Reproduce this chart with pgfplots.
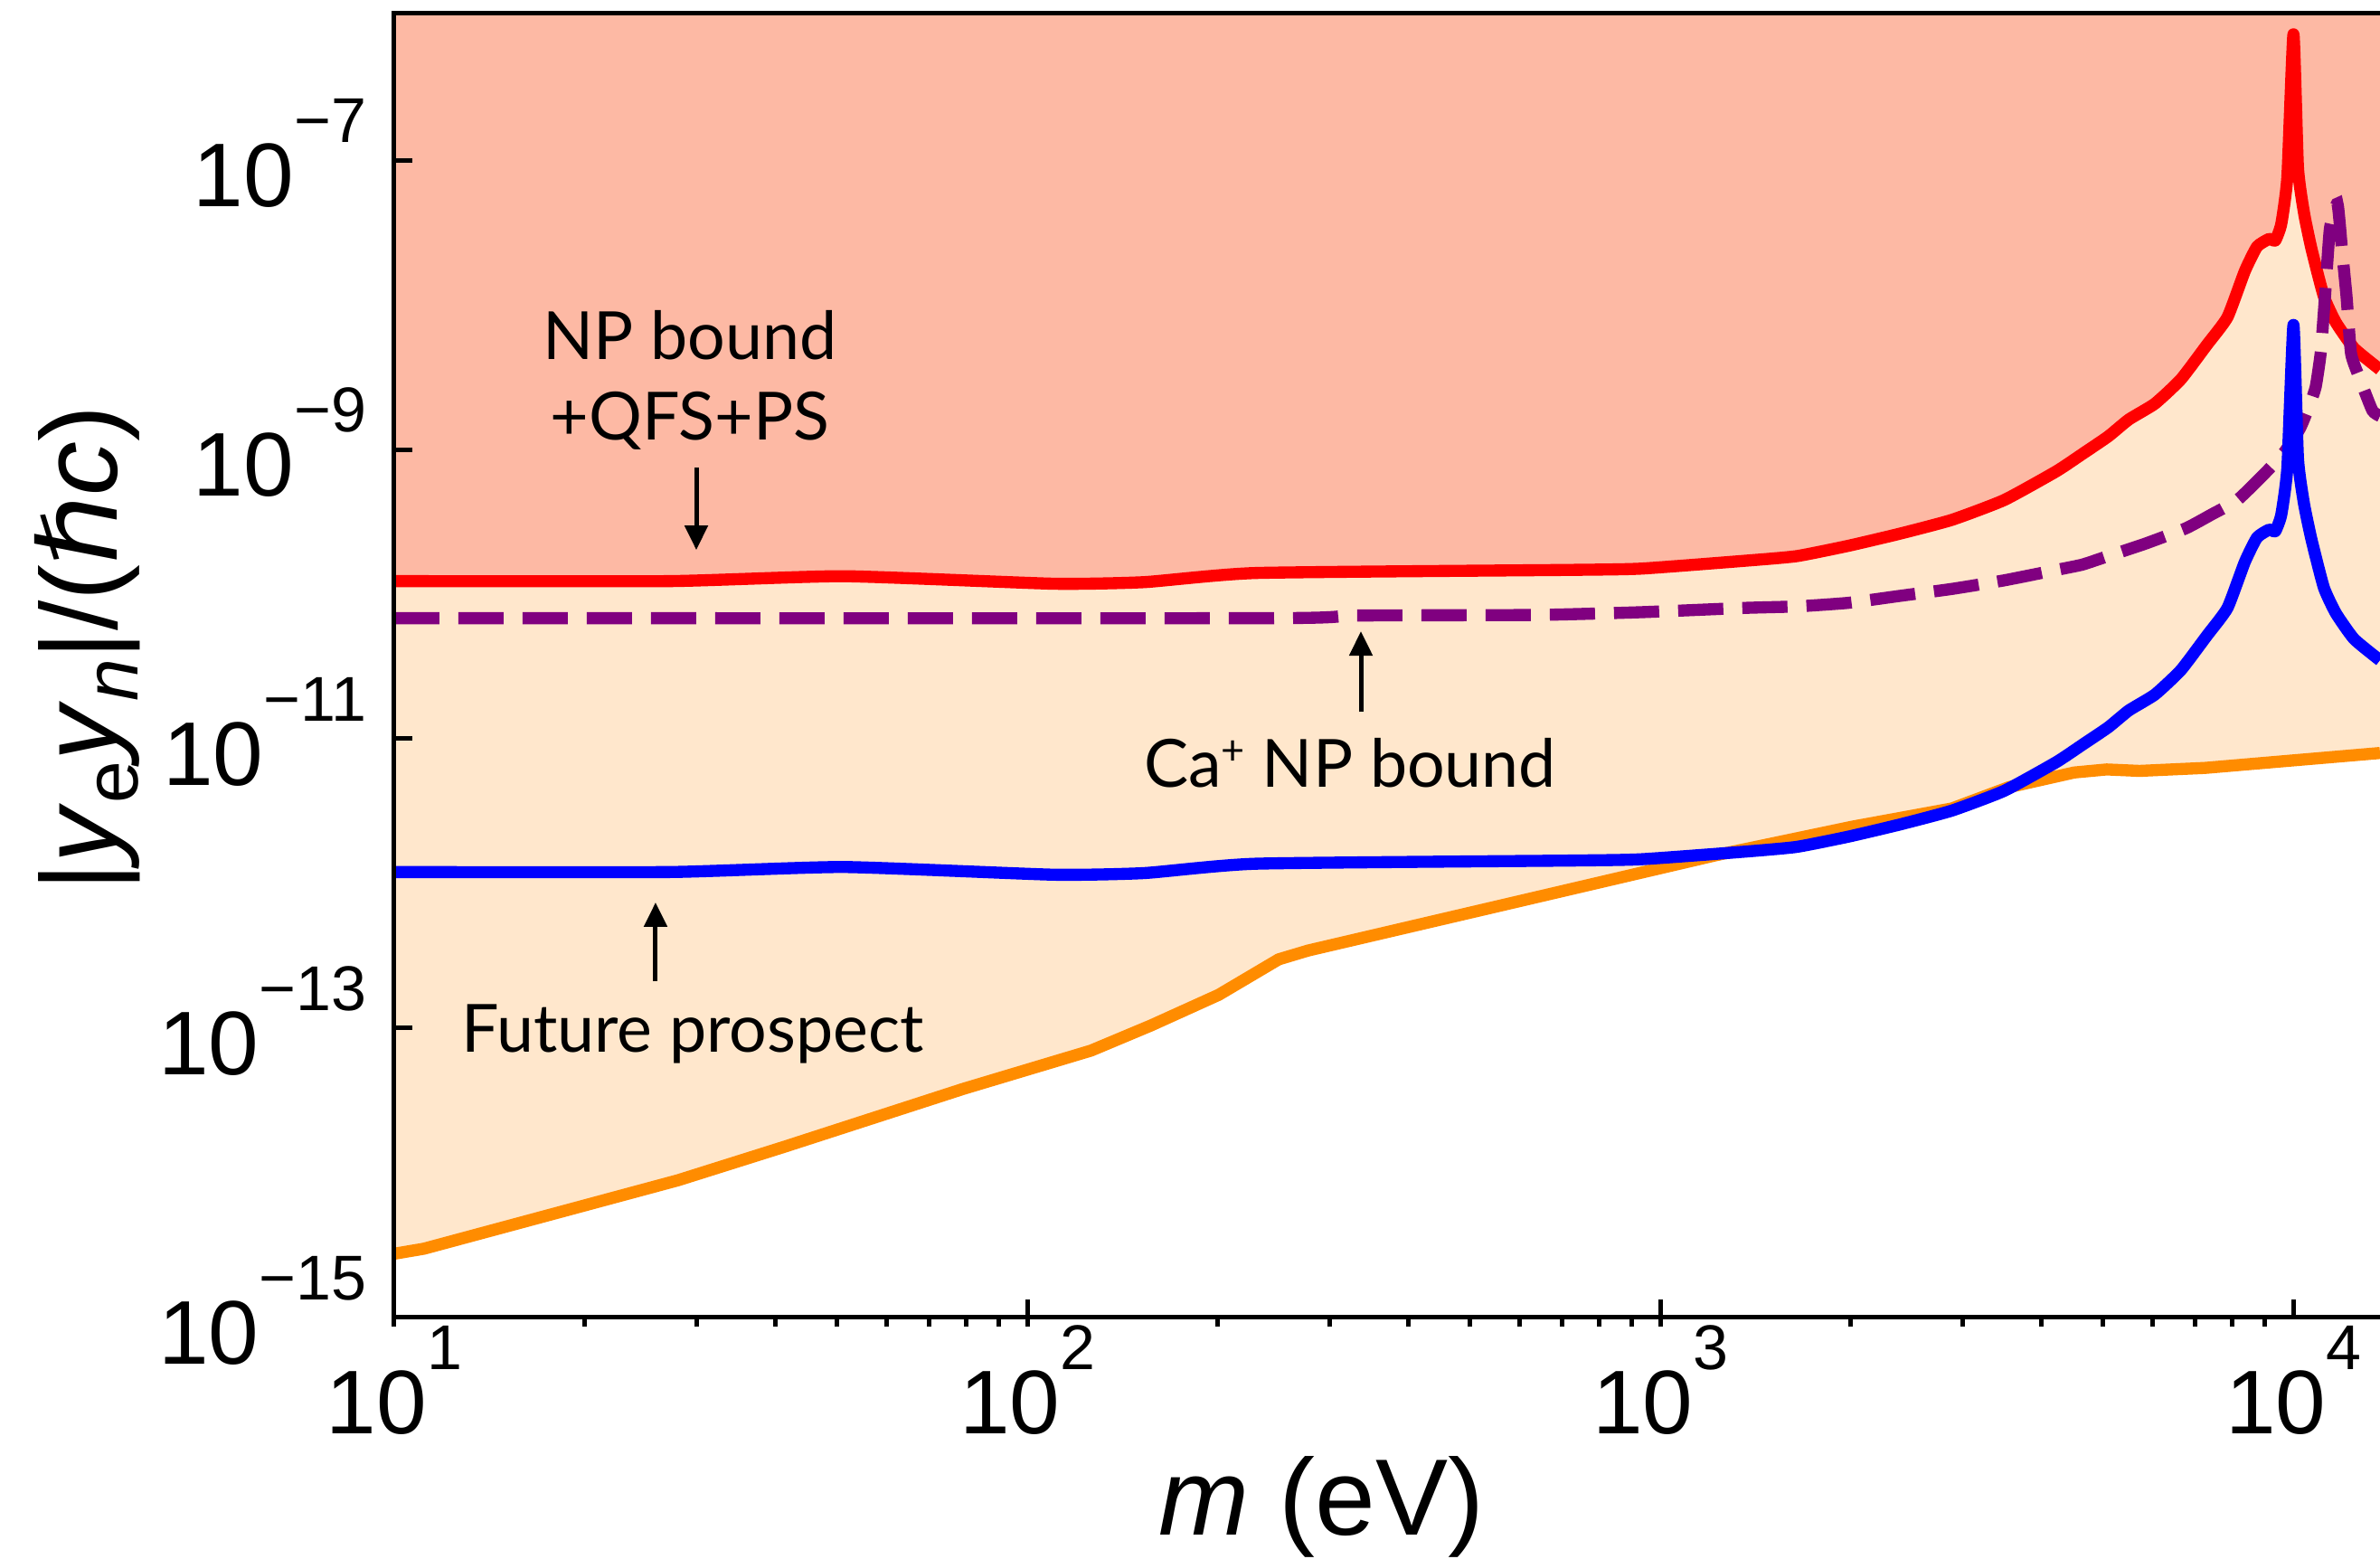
\documentclass[border=0pt]{standalone}
\usepackage{fontspec}
\setmainfont{Liberation Sans}
\newfontfamily\ann{Lato}
\newfontfamily\djv{DejaVu Sans}
\usepackage{pgfplots}
\usepackage{pgfplotstable}
\pgfplotsset{compat=1.18}
\usepgfplotslibrary{fillbetween}
\usetikzlibrary{arrows.meta}

\definecolor{salmonc}{RGB}{253,185,164}
\definecolor{peachc}{RGB}{255,231,204}
\definecolor{orangec}{RGB}{255,140,0}
\definecolor{purplec}{RGB}{128,0,128}

\newcommand\tl[1]{\fontsize{20pt}{20pt}\selectfont 10\raisebox{14.2pt}{\fontsize{14pt}{14pt}\selectfont #1}}

\pgfplotstableread{
x y
10 1.23e-10
27.3 1.23e-10
51.3 1.33e-10
110 1.18e-10
153 1.21e-10
230 1.40e-10
718 1.47e-10
931 1.50e-10
1359 1.70e-10
1641 1.83e-10
1984 2.16e-10
2392 2.62e-10
2887 3.26e-10
3493 4.47e-10
4221 7.06e-10
4642 9.31e-10
5098 1.23e-9
5495 1.61e-9
6040 2.07e-9
6640 3.05e-9
7300 5.28e-9
7868 8.20e-9
8380 1.71e-8
8760 2.52e-8
9155 2.85e-8
9359 2.78e-8
9567 3.62e-8
9781 7.67e-8
10000 7.4e-7
10167 8.87e-8
10394 4.29e-8
10686 2.40e-8
11170 1.14e-8
11670 7.54e-9
12470 5.00e-9
13700 3.57e-9
}\redtab

\pgfplotstableread{
x y
10 1.20e-12
27.3 1.20e-12
51.3 1.30e-12
110 1.15e-12
153 1.18e-12
230 1.37e-12
718 1.44e-12
931 1.47e-12
1359 1.66e-12
1641 1.79e-12
1984 2.11e-12
2392 2.56e-12
2887 3.19e-12
3493 4.37e-12
4221 6.90e-12
4642 9.10e-12
5098 1.20e-11
5495 1.57e-11
6040 2.02e-11
6640 2.98e-11
7300 5.16e-11
7868 8.02e-11
8380 1.67e-10
8760 2.46e-10
9155 2.79e-10
9359 2.72e-10
9567 3.54e-10
9781 7.50e-10
10000 7.25e-9
10167 8.67e-10
10394 4.19e-10
10686 2.35e-10
11170 1.11e-10
11670 7.37e-11
12470 4.89e-11
13700 3.49e-11
}\bluetab

\pgfplotstableread{
x y
10 6.82e-11
243 6.82e-11
328 7.11e-11
638 7.18e-11
931 7.50e-11
1359 8.03e-11
1641 8.22e-11
1984 8.71e-11
2392 9.73e-11
2887 1.086e-10
3493 1.245e-10
4221 1.469e-10
4642 1.600e-10
5098 1.834e-10
5821 2.224e-10
6757 2.846e-10
7422 3.548e-10
8153 4.467e-10
8981 6.73e-10
9674 9.57e-10
10247 1.406e-9
10627 2.070e-9
10847 2.73e-9
11047 4.73e-9
11231 1.24e-8
11419 3.37e-8
11735 5.0e-8
11932 2.40e-8
12131 1.14e-8
12334 4.58e-9
12749 3.03e-9
13324 1.86e-9
13700 1.70e-9
}\purtab

\pgfplotstableread{
x y
10 2.76e-15
11.14 2.99e-15
28.08 8.89e-15
41.24 1.51e-14
79.3 3.81e-14
126.1 7.00e-14
156.9 1.045e-13
200.6 1.70e-13
249.5 2.99e-13
277.7 3.44e-13
1220 1.563e-12
2010 2.47e-12
2887 3.30e-12
3553 4.63e-12
4505 5.85e-12
5070 6.14e-12
5713 6.00e-12
7244 6.29e-12
13700 7.98e-12
}\ortab

\begin{document}
\begin{tikzpicture}
\begin{axis}[
  scale only axis, width=439.2pt, height=288.4pt,
  xmode=log, ymode=log,
  xmin=10, xmax=13700, ymin=1e-15, ymax=1.03e-6,
  axis on top,
  axis line style={draw=none},
  tick pos=left,
  tick align=inside,
  major tick length=4pt, minor tick length=2pt,
  tick style={line width=1pt, black},
  minor x tick style={yshift=-2pt},
  xtick={10,100,1000,10000},
  xticklabels={\tl{1},\tl{2},\tl{3},\tl{4}},
  ytick={1e-15,1e-13,1e-11,1e-9,1e-7},
  yticklabels={\tl{−15},\tl{−13},\tl{−11},\tl{−9},\tl{−7}},
  yminorticks=false,
  xticklabel style={inner sep=0pt, anchor=north, yshift=-1.6pt},
  yticklabel style={inner sep=0pt, anchor=east, xshift=-6pt, yshift=1.5pt},
]
\addplot[draw=none, name path=top] coordinates {(10,1.03e-6) (13700,1.03e-6)};
\addplot[draw=none, smooth, tension=0.3, name path=redp] table {\redtab};
\addplot[draw=none, name path=orp] table {\ortab};
\addplot[fill=salmonc, draw=none] fill between[of=top and redp];
\addplot[fill=peachc, draw=none] fill between[of=redp and orp];

\addplot[orangec, line width=2.67pt, line join=round] table {\ortab};
\addplot[red, line width=2.67pt, smooth, tension=0.3, line join=round] table {\redtab};
\addplot[purplec, line width=2.67pt, smooth, tension=0.3, dash pattern=on 10pt off 4.2pt] table {\purtab};
\addplot[blue, line width=2.67pt, smooth, tension=0.3, line join=round] table {\bluetab};

\node[anchor=base, font=\ann\fontsize{14.7pt}{14.7pt}\selectfont] at (axis cs:29.3,4.2e-9) {NP bound};
\node[anchor=base, font=\ann\fontsize{14.7pt}{14.7pt}\selectfont] at (axis cs:29.3,1.155e-9) {+QFS+PS};
\node[anchor=base, font=\ann\fontsize{14.7pt}{14.7pt}\selectfont] at (axis cs:323.6,4.62e-12) {Ca\raisebox{5pt}{\fontsize{9pt}{9pt}\selectfont +} NP bound};
\node[anchor=base, font=\ann\fontsize{14.7pt}{14.7pt}\selectfont] at (axis cs:29.6,6.83e-14) {Future prospect};

\draw[-{Triangle[length=5.4pt,width=5pt]}, line width=1pt] (axis cs:30,7.5e-10) -- (axis cs:30,2.02e-10);
\draw[-{Triangle[length=5.4pt,width=5pt]}, line width=1pt] (axis cs:336.5,1.53e-11) -- (axis cs:336.5,5.54e-11);
\draw[-{Triangle[length=5.4pt,width=5pt]}, line width=1pt] (axis cs:25.87,2.11e-13) -- (axis cs:25.87,7.4e-13);

\coordinate (SW) at (rel axis cs:0,0);
\coordinate (NE) at (rel axis cs:1,1);
\coordinate (NW) at (rel axis cs:0,1);
\coordinate (SE) at (rel axis cs:1,0);
\coordinate (XL) at (rel axis cs:0.4668,0);
\coordinate (YL) at (rel axis cs:0,0.513);
\end{axis}
\draw[line width=1pt] (NE) -- (NW) -- (SW) -- (SE);
\node[anchor=base, font=\fontsize{24pt}{24pt}\selectfont] at ([yshift=-48.2pt]XL) {\textit{m} (eV)};
\node[rotate=90, anchor=base, font=\fontsize{24pt}{24pt}\selectfont] at ([xshift=-61.2pt]YL)
  {|\textit{y}\raisebox{-4.6pt}{\fontsize{16.8pt}{16.8pt}\selectfont e}\textit{y}\raisebox{-4.6pt}{\fontsize{16.8pt}{16.8pt}\selectfont\itshape n}|/({\djv\itshape ℏ}\textit{c})};
\pgfresetboundingbox
\path[use as bounding box] ([xshift=-87.2pt,yshift=-53.4pt]SW) rectangle ([yshift=3pt]NE);
\end{tikzpicture}
\end{document}
